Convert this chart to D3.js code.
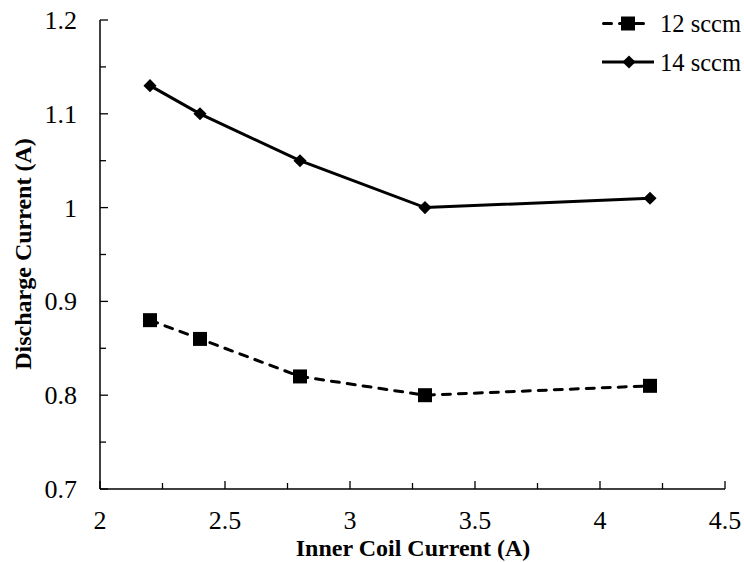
<!DOCTYPE html>
<html><head><meta charset="utf-8">
<script src="https://cdn.jsdelivr.net/npm/d3@7"></script>
<style>body{margin:0;background:#fff}svg{display:block}
text{font-family:"Liberation Serif","Times New Roman",serif;fill:#000}
</style>
</head><body>
<svg id="c" width="744" height="562"></svg>
<script>
const xValues = [2.2, 2.4, 2.8, 3.3, 4.2];
const series12 = [0.88, 0.86, 0.82, 0.80, 0.81];
const series14 = [1.13, 1.10, 1.05, 1.00, 1.01];
const seriesNames = ["12 sccm", "14 sccm"];
const xTicks = [2, 2.5, 3, 3.5, 4, 4.5];
const yTicks = [0.7, 0.8, 0.9, 1.0, 1.1, 1.2];

const svg = d3.select("#c");
const x = d3.scaleLinear().domain([2, 4.5]).range([100, 725]);
const y = d3.scaleLinear().domain([0.7, 1.2]).range([489, 20]);

// axes
const g = svg.append("g");
g.append("line").attr("x1", x(2)).attr("x2", x(4.5)).attr("y1", y(0.7)).attr("y2", y(0.7)).attr("stroke", "#000").attr("stroke-width", 1.5);
g.append("line").attr("x1", x(2)).attr("x2", x(2)).attr("y1", y(0.7)).attr("y2", y(1.2)).attr("stroke", "#000").attr("stroke-width", 1.5);
const xMinor = d3.range(0, 11).map(i => 2 + i * 0.25);
g.selectAll(".xt").data(xMinor).join("line")
  .attr("x1", d => x(d)).attr("x2", d => x(d))
  .attr("y1", y(0.7)).attr("y2", (d, i) => y(0.7) - (i % 2 === 0 ? 8 : 6))
  .attr("stroke", "#000").attr("stroke-width", 1.3);
const yMinor = d3.range(0, 11).map(i => 0.7 + i * 0.05);
g.selectAll(".yt").data(yMinor).join("line")
  .attr("x1", x(2)).attr("x2", (d, i) => x(2) + (i % 2 === 0 ? 8 : 6))
  .attr("y1", d => y(d)).attr("y2", d => y(d))
  .attr("stroke", "#000").attr("stroke-width", 1.3);

g.selectAll(".xl").data(xTicks).join("text")
  .attr("x", d => x(d)).attr("y", y(0.7) + 40)
  .attr("text-anchor", "middle").attr("font-size", 26)
  .text(d => d3.format("")(d));
g.selectAll(".yl").data(yTicks).join("text")
  .attr("x", 77).attr("y", d => y(d) + 9)
  .attr("text-anchor", "end").attr("font-size", 26)
  .text(d => d3.format("")(+d.toFixed(1)));

svg.append("text").attr("x", 413).attr("y", 556).attr("text-anchor", "middle")
  .attr("font-size", 24).attr("font-weight", "bold")
  .text("Inner Coil Current (A)");
svg.append("text").attr("transform", "translate(31,254) rotate(-90)").attr("text-anchor", "middle")
  .attr("font-size", 24).attr("font-weight", "bold")
  .text("Discharge Current (A)");

const line = d3.line().x(d => x(d[0])).y(d => y(d[1]));
const d12 = xValues.map((v, i) => [v, series12[i]]);
const d14 = xValues.map((v, i) => [v, series14[i]]);

svg.append("path").datum(d14).attr("d", line).attr("fill", "none").attr("stroke", "#000").attr("stroke-width", 3);
svg.append("path").datum(d12).attr("d", line).attr("fill", "none").attr("stroke", "#000").attr("stroke-width", 3)
  .attr("stroke-dasharray", "8,8").attr("stroke-linecap", "round");

const sq = d3.symbol().type(d3.symbolSquare).size(196);
const dm = d3.symbol().type(d3.symbolDiamond2).size(110);
svg.selectAll(".m12").data(d12).join("path").attr("d", sq)
  .attr("transform", d => `translate(${x(d[0])},${y(d[1])})`).attr("fill", "#000");
svg.selectAll(".m14").data(d14).join("path").attr("d", dm)
  .attr("transform", d => `translate(${x(d[0])},${y(d[1])})`).attr("fill", "#000");

// legend
const leg = svg.append("g");
leg.append("line").attr("x1", 603.5).attr("x2", 647).attr("y1", 23.5).attr("y2", 23.5)
  .attr("stroke", "#000").attr("stroke-width", 3).attr("stroke-dasharray", "8,8").attr("stroke-linecap", "round");
leg.append("path").attr("d", sq).attr("transform", "translate(628,23.5)").attr("fill", "#000");
leg.append("text").attr("x", 660).attr("y", 32).attr("font-size", 24.5).text(seriesNames[0]);
leg.append("line").attr("x1", 602).attr("x2", 654).attr("y1", 62).attr("y2", 62)
  .attr("stroke", "#000").attr("stroke-width", 3);
leg.append("path").attr("d", dm).attr("transform", "translate(629,62)").attr("fill", "#000");
leg.append("text").attr("x", 660).attr("y", 71).attr("font-size", 24.5).text(seriesNames[1]);
</script>
</body></html>
